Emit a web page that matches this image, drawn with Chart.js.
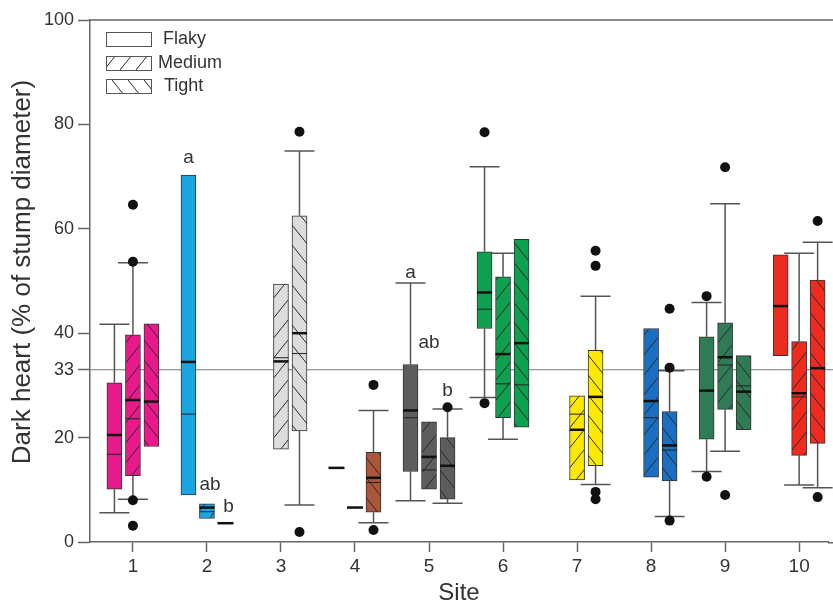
<!DOCTYPE html>
<html lang="en">
<head>
<meta charset="UTF-8">
<title>Dark heart by site</title>
<script src="https://cdn.jsdelivr.net/npm/chart.js"></script>
<style>
  html, body { margin: 0; padding: 0; background: #fff; }
  #wrap { width: 833px; height: 608px; }
</style>
</head>
<body>
<div id="wrap"><canvas id="chart" width="833" height="608"></canvas></div>
<script>
// ---- data ----
const sites = [1, 2, 3, 4, 5, 6, 7, 8, 9, 10];
const groups = ['Flaky', 'Medium', 'Tight'];
const yTicks = [0, 20, 33, 40, 60, 80, 100];
const refLine = 33;
const siteColors = ['#e8198b', '#1aa5e2', '#dcdcdc', '#a9563b', '#5d5d5d',
                    '#0fa04f', '#fbe900', '#1b6fc2', '#2f7b55', '#ee2b1f'];

// Flaky
const flakyQ1     = [10.1,  9.0, null, null, 13.5, 40.9, null, null, 19.7, 35.7];
const flakyQ3     = [30.5, 70.3, null, null, 34.0, 55.6, null, null, 39.3, 55.0];
const flakyMedian = [20.5, 34.5, null, 14.2, 25.2, 47.8, null, null, 29.0, 45.2];
const flakyMean   = [16.8, 24.5, null, null, 23.8, 44.6, null, null, null, null];
const flakyLow    = [ 5.6, null, null, null,  7.9, 27.7, null, null, 13.5, null];
const flakyHigh   = [41.7, null, null, null, 49.6, 71.9, null, null, 45.9, null];
const flakyOutliers = [[6, 78.5], [6, 26.6], [9, 47.1], [9, 12.5]];

// Medium
const mediumQ1     = [12.7, 4.5, 17.8, null, 10.1, 23.8, 11.9, 12.4, 25.4, 16.6];
const mediumQ3     = [39.7, 7.3, 49.4, null, 23.0, 50.8, 28.0, 40.9, 42.0, 38.4];
const mediumMedian = [27.2, 6.6, 34.6,  6.6, 16.3, 36.0, 21.5, 27.0, 35.4, 28.5];
const mediumMean   = [23.6, 5.8, 35.3, null, 13.8, 30.3, 24.5, 23.8, 33.9, 27.8];
const mediumLow    = [ 8.2, null, null, null, null, 19.7, null, null, 17.4, 10.9];
const mediumHigh   = [53.5, null, null, null, null, 55.3, null, null, 64.8, 55.3];
const mediumOutliers = [[1, 64.6], [1, 53.7], [1, 8.0], [1, 3.1], [9, 71.8], [9, 9.0]];

// Tight
const tightQ1     = [18.3, null, 21.3,  5.7,  8.2, 22.0, 14.6, 11.7, 21.5, 18.9];
const tightQ3     = [41.8, null, 62.5, 17.2, 20.0, 58.0, 36.7, 25.0, 35.7, 50.2];
const tightMedian = [26.9,  3.6, 40.0, 12.3, 14.6, 38.1, 27.8, 18.5, 28.8, 33.3];
const tightMean   = [null, null, 36.1, 11.4, null, 30.1, null, 17.6, 29.9, null];
const tightLow    = [null, null,  7.1,  3.7,  7.4, null, 11.0,  4.9, null, 10.4];
const tightHigh   = [null, null, 74.9, 25.2, 25.5, null, 47.1, 32.8, null, 57.4];
const tightOutliers = [[3, 78.6], [3, 1.9], [4, 30.1], [4, 2.3], [5, 25.8], [7, 55.8], [7, 52.9],
                       [7, 9.6], [7, 8.2], [8, 44.7], [8, 33.4], [8, 4.1], [10, 61.5], [10, 8.6]];

// significance letters
const letterSite  = [2, 2, 2, 5, 5, 5];
const letterGroup = [0, 1, 2, 0, 1, 2];
const letterText  = ['a', 'ab', 'b', 'a', 'ab', 'b'];
const letterValue = [73.6, 10.9, 6.7, 51.6, 38.2, 28.9];

// ---- styling ----
const groupOffset = [-0.25, 0, 0.25];
const boxPx = 15, capHalf = 15;
const axisColor = '#666', textColor = '#333';
const FONT = "'Liberation Sans', Arial, sans-serif";
const yTitle = 'Dark heart (% of stump diameter)';

const stats = [
  { q1: flakyQ1, q3: flakyQ3, med: flakyMedian, mean: flakyMean, lo: flakyLow, hi: flakyHigh, out: flakyOutliers },
  { q1: mediumQ1, q3: mediumQ3, med: mediumMedian, mean: mediumMean, lo: mediumLow, hi: mediumHigh, out: mediumOutliers },
  { q1: tightQ1, q3: tightQ3, med: tightMedian, mean: tightMean, lo: tightLow, hi: tightHigh, out: tightOutliers }
];

// hatch patterns: 0 none, 1 "/", 2 "\"
function makePattern(color, kind) {
  const w = 16, h = 20;
  const c = document.createElement('canvas');
  c.width = w; c.height = h;
  const g = c.getContext('2d');
  g.fillStyle = color;
  g.fillRect(0, 0, w, h);
  if (kind) {
    g.strokeStyle = '#2a2a2a';
    g.lineWidth = 1;
    g.beginPath();
    if (kind === 1) { g.moveTo(-1, h + 1.25); g.lineTo(w + 1, -1.25); }
    else { g.moveTo(-1, -1.25); g.lineTo(w + 1, h + 1.25); }
    g.stroke();
  }
  return g.createPattern(c, 'repeat');
}
const patterns = groups.map((_, gi) => siteColors.map(col => makePattern(col, gi)));

const datasets = [];
groups.forEach((name, gi) => {
  const s = stats[gi];
  datasets.push({
    type: 'bar',
    label: name,
    order: 2,
    data: sites.map((site, i) => s.q1[i] == null ? null : { x: site + groupOffset[gi], y: [s.q1[i], s.q3[i]], site: i })
               .filter(Boolean),
    backgroundColor: ctx => ctx.raw ? patterns[gi][ctx.raw.site] : '#fff',
    borderColor: '#333',
    borderWidth: 1,
    borderSkipped: false,
    grouped: false,
    barPercentage: 1,
    categoryPercentage: 1,
    maxBarThickness: boxPx
  });
});
groups.forEach((name, gi) => {
  datasets.push({
    type: 'scatter',
    label: name + ' outliers',
    order: 0,
    data: stats[gi].out.map(p => ({ x: p[0] + groupOffset[gi], y: p[1] })),
    pointRadius: 5,
    pointBackgroundColor: '#111',
    pointBorderWidth: 0
  });
});

const boxExtras = {
  id: 'boxExtras',
  beforeDatasetsDraw(chart) {
    const { ctx, chartArea: a, scales: { x, y } } = chart;
    ctx.save();
    // 33 % reference line
    ctx.strokeStyle = '#777';
    ctx.lineWidth = 1.2;
    ctx.beginPath();
    ctx.moveTo(a.left, y.getPixelForValue(refLine));
    ctx.lineTo(chart.width, y.getPixelForValue(refLine));
    ctx.stroke();
    // whiskers
    ctx.strokeStyle = '#555';
    ctx.lineWidth = 1.5;
    stats.forEach((s, gi) => {
      sites.forEach((site, i) => {
        const px = x.getPixelForValue(site + groupOffset[gi]);
        const lowEnd = s.q1[i] != null ? s.q1[i] : s.med[i];
        const highEnd = s.q3[i] != null ? s.q3[i] : s.med[i];
        [[s.lo[i], lowEnd], [s.hi[i], highEnd]].forEach(([w, b]) => {
          if (w == null) return;
          const yw = y.getPixelForValue(w), yb = y.getPixelForValue(b);
          ctx.beginPath();
          ctx.moveTo(px, yb); ctx.lineTo(px, yw);
          ctx.moveTo(px - capHalf, yw); ctx.lineTo(px + capHalf, yw);
          ctx.stroke();
        });
      });
    });
    ctx.restore();
  },
  afterDatasetsDraw(chart) {
    const { ctx, chartArea: a, scales: { x, y } } = chart;
    ctx.save();
    // medians (thick) and means (thin)
    stats.forEach((s, gi) => {
      sites.forEach((site, i) => {
        const px = x.getPixelForValue(site + groupOffset[gi]);
        if (s.mean[i] != null) {
          ctx.strokeStyle = '#222'; ctx.lineWidth = 1;
          const ym = y.getPixelForValue(s.mean[i]);
          ctx.beginPath(); ctx.moveTo(px - boxPx / 2, ym); ctx.lineTo(px + boxPx / 2, ym); ctx.stroke();
        }
        if (s.med[i] != null) {
          ctx.strokeStyle = '#111'; ctx.lineWidth = 2.5;
          const ym = y.getPixelForValue(s.med[i]);
          const hw = s.q1[i] == null ? boxPx / 2 + 0.5 : boxPx / 2;
          ctx.beginPath(); ctx.moveTo(px - hw, ym); ctx.lineTo(px + hw, ym); ctx.stroke();
        }
      });
    });
    // letters
    ctx.fillStyle = textColor;
    ctx.font = '19px ' + FONT;
    ctx.textAlign = 'center';
    ctx.textBaseline = 'middle';
    letterText.forEach((t, k) => {
      const shift = letterSite[k] === 2 && letterGroup[k] > 0 ? 3 : 0;
      ctx.fillText(t, x.getPixelForValue(letterSite[k] + groupOffset[letterGroup[k]]) + shift,
                   y.getPixelForValue(letterValue[k]));
    });
    // top frame line, and the x axis carried on to the cropped right edge
    ctx.strokeStyle = axisColor;
    ctx.lineWidth = 1.5;
    ctx.beginPath();
    ctx.moveTo(a.left, a.top); ctx.lineTo(chart.width, a.top);
    ctx.moveTo(a.right, a.bottom + 0.75); ctx.lineTo(chart.width, a.bottom + 0.75);
    ctx.stroke();
    // y title
    ctx.save();
    ctx.translate(23, 272);
    ctx.rotate(-Math.PI / 2);
    ctx.font = '26px ' + FONT;
    ctx.textAlign = 'center';
    ctx.fillText(yTitle, 0, 0);
    ctx.restore();
    // legend
    ctx.font = '18px ' + FONT;
    ctx.textAlign = 'left';
    const lx = a.left + 16, rowY = [a.top + 12, a.top + 36, a.top + 59];
    const legendPats = [0, 1, 2].map(k => makePattern('#ffffff', k));
    groups.forEach((g, k) => {
      ctx.fillStyle = legendPats[k];
      ctx.fillRect(lx, rowY[k], 45, 14);
      ctx.strokeStyle = '#555'; ctx.lineWidth = 1;
      ctx.strokeRect(lx + 0.5, rowY[k] + 0.5, 45, 14);
      ctx.fillStyle = textColor;
      ctx.fillText(g, lx + [57, 52, 58][k], rowY[k] + 7);
    });
    ctx.restore();
  }
};

new Chart(document.getElementById('chart'), {
  type: 'bar',
  data: { datasets },
  options: {
    responsive: false,
    animation: false,
    layout: { padding: { top: 20, right: 0, left: 0, bottom: 0 } },
    plugins: { legend: { display: false }, tooltip: { enabled: false } },
    scales: {
      x: {
        type: 'linear',
        min: 0.42,
        max: 10.39,
        offset: false,
        afterBuildTicks: s => { s.ticks = sites.map(v => ({ value: v })); },
        afterFit: s => { s.height = 66; },
        grid: { drawOnChartArea: false, offset: false, tickLength: 10, tickColor: axisColor, tickWidth: 1.5 },
        border: { display: true, color: axisColor, width: 1.5 },
        ticks: { color: textColor, font: { family: FONT, size: 19 }, padding: 3 },
        title: { display: true, text: 'Site', color: textColor, font: { family: FONT, size: 24 }, padding: { top: 0, bottom: 0 } }
      },
      y: {
        min: 0,
        max: 100,
        afterBuildTicks: s => { s.ticks = yTicks.map(v => ({ value: v })); },
        afterFit: s => { s.width = 90; },
        grid: { drawOnChartArea: false, tickLength: 12, tickColor: axisColor, tickWidth: 1.5 },
        border: { display: true, color: axisColor, width: 1.5 },
        ticks: { color: textColor, font: { family: FONT, size: 18 }, padding: 4 },
        title: { display: false }
      }
    }
  },
  plugins: [boxExtras]
});
</script>
</body>
</html>
